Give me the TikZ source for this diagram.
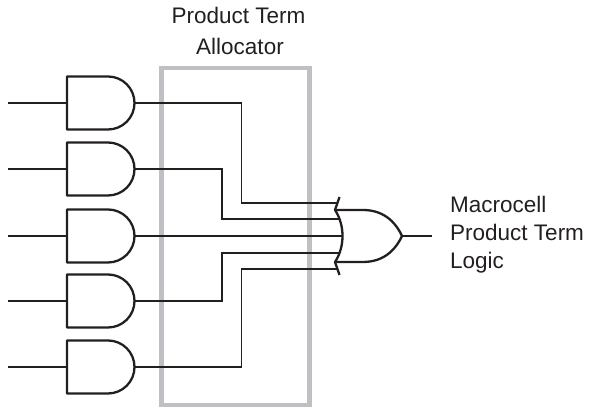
\documentclass[tikz,border=0pt]{standalone}
\usepackage{fontspec}
\setmainfont{Liberation Sans}
\definecolor{ink}{RGB}{35,31,32}
\definecolor{boxgray}{RGB}{192,192,196}
\begin{document}
\begin{tikzpicture}[x=1pt,y=1pt,
  gate/.style={draw=ink, line width=2.3pt, line join=round},
  wire/.style={draw=ink, line width=1.1pt},
  lbl/.style={font=\fontsize{22.5}{27}\selectfont, text=ink, inner sep=0pt}]
\useasboundingbox (0,0) rectangle (590,411);
% allocator box
\draw[boxgray, line width=4.5pt] (161.5,6) rectangle (309.5,343);
% AND gates
\foreach \i/\y in {1/308,2/242,3/175,4/110,5/44}{
  \draw[gate] (67,\y+26.5) -- (108,\y+26.5) arc[start angle=90,end angle=-90,radius=26.5pt] -- (67,\y-26.5) -- cycle;
  \coordinate (in\i) at (8,\y);
  \coordinate (a\i) at (67,\y);
  \coordinate (o\i) at (134.5,\y);
  \draw[wire] (in\i) -- (a\i);
}
% OR gate inputs / output
\coordinate (i1) at (337,208);
\coordinate (i2) at (339.5,192);
\coordinate (i3) at (342.5,175);
\coordinate (i4) at (339.5,158);
\coordinate (i5) at (337,142);
\coordinate (orout) at (402,175);
\coordinate (out) at (432,175);
% wires
\draw[wire] (o1) -| (241.5,208) -- (i1);
\draw[wire] (o2) -| (222,192) -- (i2);
\draw[wire] (o3) -- (i3);
\draw[wire] (o4) -| (222,158) -- (i4);
\draw[wire] (o5) -| (241.5,142) -- (i5);
\draw[wire] (orout) -- (out);
% OR gate
\draw[gate] (335,201) -- (363,201) .. controls (386,201) and (397,186) .. (orout)
  .. controls (397,164) and (386,149) .. (363,149) -- (335,149);
\draw[gate] (339.5,214) .. controls (337.5,208) .. (335,201)
  .. controls (345,186) and (345,164) .. (335,149)
  .. controls (337.5,143) .. (339.5,136);
% labels
\node[lbl, anchor=base] (t1) at (238.5,387) {Product Term};
\node[lbl, anchor=base] (t2) at (240,356) {Allocator};
\node[lbl, anchor=base west] (r1) at (450,198) {Macrocell};
\node[lbl, anchor=base west] (r2) at (450,170) {Product Term};
\node[lbl, anchor=base west] (r3) at (450,142) {Logic};
\end{tikzpicture}
\end{document}
